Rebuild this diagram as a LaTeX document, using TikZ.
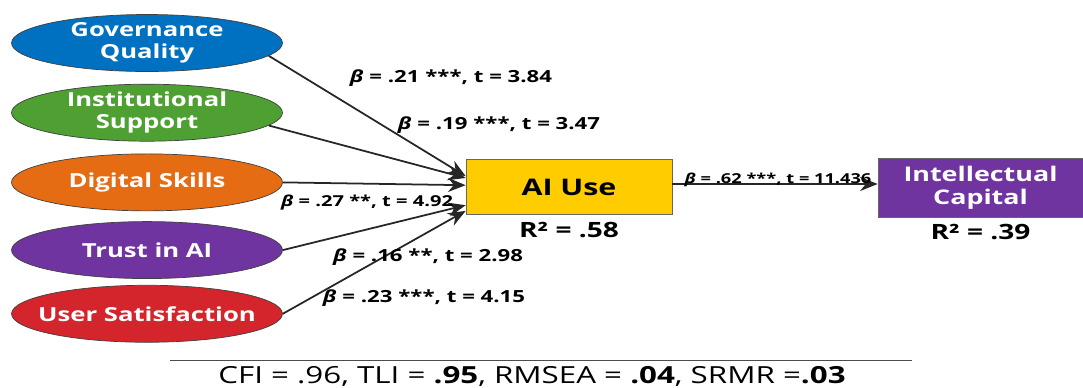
\documentclass[tikz,border=0pt]{standalone}
\usepackage{fontspec}
\setmainfont[FakeStretch=1.33]{Open Sans}
\usetikzlibrary{positioning, shapes.geometric, arrows.meta}

\definecolor{gqblue}{RGB}{0,112,192}
\definecolor{isgreen}{RGB}{78,160,50}
\definecolor{dsorange}{RGB}{230,108,20}
\definecolor{tapurple}{RGB}{112,52,160}
\definecolor{usred}{RGB}{212,36,44}
\definecolor{aiyellow}{RGB}{255,204,0}

\begin{document}
\begin{tikzpicture}[x=0.02cm, y=-0.02cm,
            latent/.style={ellipse, draw=black!75, minimum width=5.42cm, minimum height=1.14cm, inner xsep=-1cm, inner ysep=-0.1cm, align=center, text=white, font=\bfseries\fontsize{11}{12.5}\selectfont},
            construct/.style={rectangle, draw=black!60, minimum width=4.12cm, minimum height=1.1cm, align=center},
            path/.style={-{Stealth[length=10pt, width=8pt]}, line width=1pt, black!85},
            coef/.style={font=\bfseries\fontsize{9.5}{11}\selectfont},
            rsq/.style={font=\bfseries\fontsize{12}{14}\selectfont}
        ]
            \useasboundingbox (0,0) rectangle (1083,387);

            \node [latent, fill=gqblue] (gq) at (147,43) {Governance\\Quality};
            \node [latent, fill=isgreen, below=0.24cm of gq] (is) {Institutional\\Support};
            \node [latent, fill=dsorange, below=0.24cm of is] (ds) {Digital Skills};
            \node [latent, fill=tapurple, below=0.2cm of ds] (ta) {Trust in AI};
            \node [latent, fill=usred, below=0.12cm of ta] (us) {User Satisfaction};

            \node [construct, fill=aiyellow, font=\bfseries\fontsize{13}{15}\selectfont] (ai) at (569,187) {AI Use};
            \node [construct, fill=tapurple, text=white, minimum width=4.1cm, minimum height=1.18cm, font=\bfseries\fontsize{11.5}{13}\selectfont] (ic) at (980.5,187.5) {Intellectual\\Capital};

            \node [rsq, below=0.02cm of ai] (r2ai) {R² = .58};
            \node [rsq, below=0.02cm of ic] (r2ic) {R² = .39};

            \draw [path] (gq.-6) -- (ai.174);
            \draw [path] (is.-6) -- (ai.175);
            \draw [path] (ds.east) -- (ai.179);
            \draw [path] (ta.east) -- (ai.190);
            \draw [path] (us.east) -- (ai.193);
            \draw [path] (ai.east) ++(0,-3) coordinate (aiout) -- (aiout -| ic.west);

            \node [coef] (cgq) at (451,78) {\textit{β} = .21 ***, t = 3.84};
            \node [coef] (cis) at (499,125) {\textit{β} = .19 ***, t = 3.47};
            \node [coef, font=\bfseries\fontsize{8.6}{10}\selectfont] (cds) at (367,203) {\textit{β} = .27 **, t = 4.92};
            \node [coef] (cta) at (428,257) {\textit{β} = .16 **, t = 2.98};
            \node [coef] (cus) at (424,298) {\textit{β} = .23 ***, t = 4.15};
            \node [coef, font=\bfseries\fontsize{7.8}{9}\selectfont] (cai) at (778,180) {\textit{β} = .62 ***, t = 11.436};

            \draw [black!70] (170,360) -- (912,360);
            \node [font=\fontsize{13.4}{15}\selectfont] (fit) at (532,376) {CFI = .96, TLI = \textbf{.95}, RMSEA = \textbf{.04}, SRMR =\textbf{.03}};

        \end{tikzpicture}
\end{document}
